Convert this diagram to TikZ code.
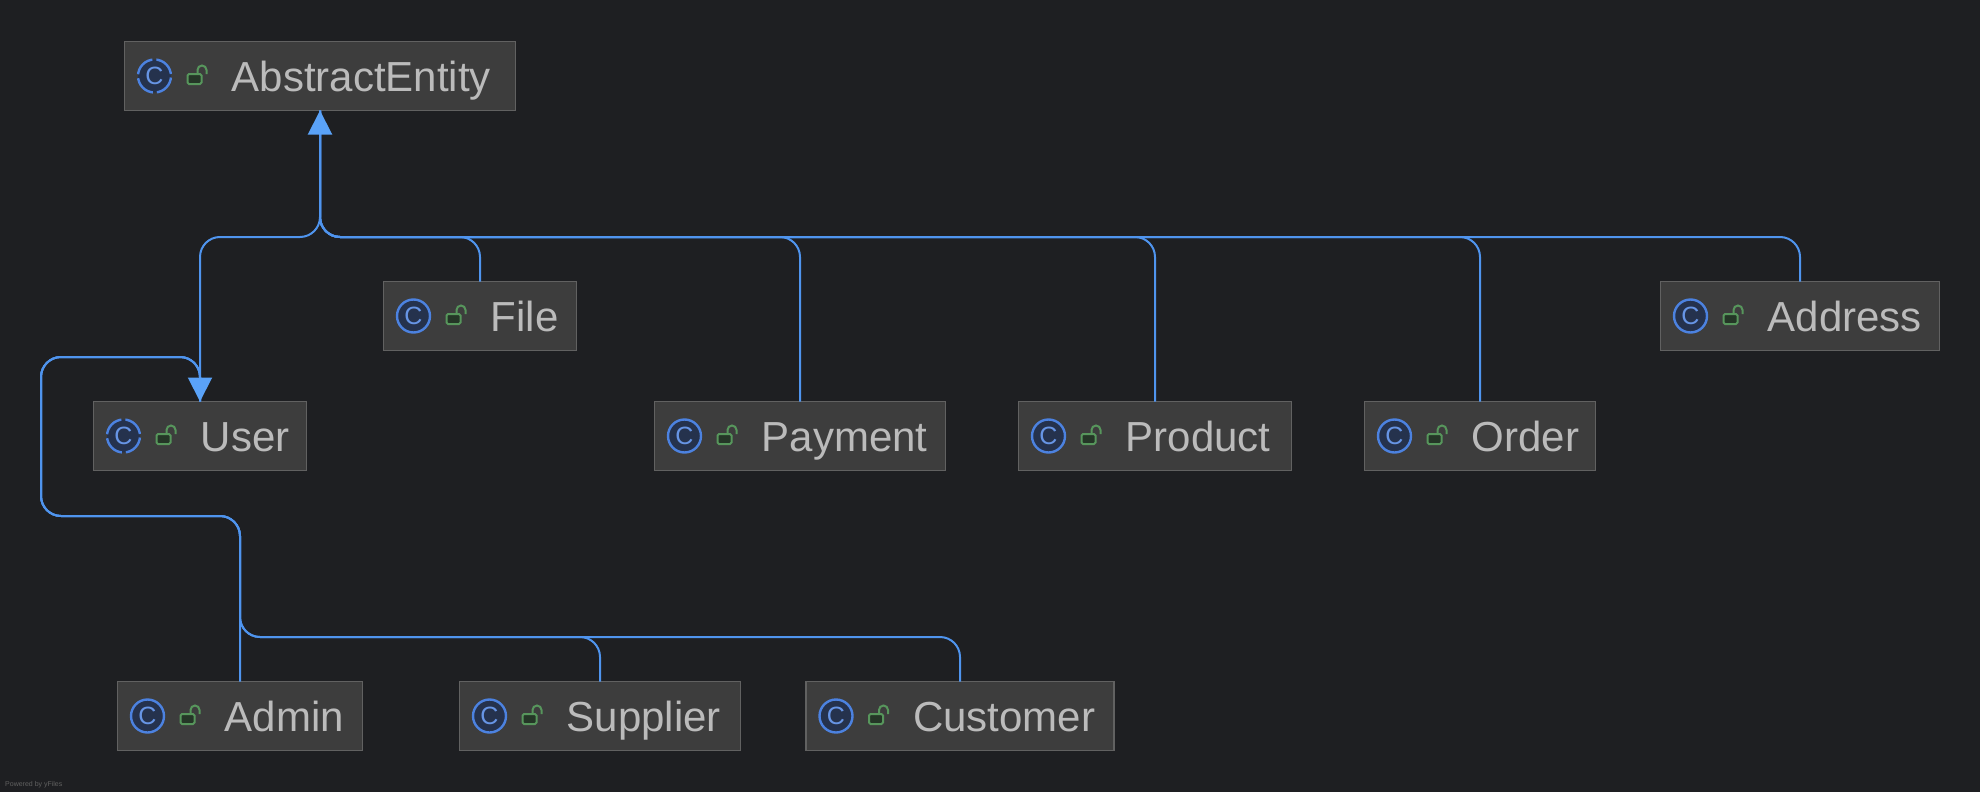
\documentclass[tikz,border=0pt]{standalone}
\usepackage{fontspec}
\setmainfont{Liberation Sans}
\usetikzlibrary{arrows.meta}
\definecolor{canvasbg}{HTML}{1E1F22}
\definecolor{boxfill}{HTML}{3D3D3D}
\definecolor{boxedge}{HTML}{616161}
\definecolor{labeltext}{HTML}{BBBBBB}
\definecolor{iconblue}{HTML}{4C82E0}
\definecolor{iconfill}{HTML}{25324D}
\definecolor{lockgreen}{HTML}{57965C}
\definecolor{lockfill}{HTML}{253627}
\definecolor{inherit}{HTML}{4F94EE}
\definecolor{inherithead}{HTML}{5AA2F8}
\tikzset{
  classbox/.style     = {shape=rectangle, draw=boxedge, fill=boxfill, line width=1.5pt,
                         anchor=north west, minimum height=69pt, outer sep=0pt, inner sep=0pt},
  classlabel/.style   = {text=labeltext, font=\fontsize{42}{48}\selectfont,
                         anchor=base west, inner sep=0pt},
  concreteicon/.style = {shape=circle, draw=iconblue, fill=iconfill, line width=2.4pt,
                         minimum size=33pt, inner sep=0pt, text=iconblue!85!white,
                         font=\fontsize{25}{25}\selectfont},
  abstracticon/.style = {concreteicon, dash pattern=on 22pt off 4pt, dash phase=24pt},
  lockbody/.style     = {shape=rectangle, rounded corners=1.5pt, draw=lockgreen, fill=lockfill,
                         line width=2pt, minimum width=14pt, minimum height=10pt, inner sep=0pt},
  lockshackle/.style  = {draw=lockgreen, line width=2pt},
  inheritline/.style  = {draw=inherit, line width=2pt, rounded corners=20pt},
  inherittip/.style   = {inheritline, -{Triangle[length=24pt,width=24pt,color=inherithead]}}
}
% name, left, top, width, text, icon style
\newcommand{\classnode}[6]{
  \node[classbox, minimum width=#4pt] (#1) at (#2,#3) {};
  \node[#6] (#1-icon) at ([xshift=30pt]#1.west) {C};
  \node[lockbody] (#1-lock) at ([xshift=70pt,yshift=-3pt]#1.west) {};
  \draw[lockshackle] ([xshift=3pt]#1-lock.north) -- ++(0pt,3pt)
    arc[start angle=180, end angle=0, radius=4.5pt] -- ++(0pt,-4pt);
  \node[classlabel] (#1-label) at ([xshift=107pt,yshift=-49.5pt]#1.north west) {#5};
}
\begin{document}
\begin{tikzpicture}[x=1pt,y=-1pt]
  \path[fill=canvasbg, use as bounding box] (0,0) rectangle (1980,792);

  \classnode{entity}{124.5}{41.5}{391}{AbstractEntity}{abstracticon}
  \classnode{file}{383.5}{281.5}{193}{File}{concreteicon}
  \classnode{address}{1660.5}{281.5}{279}{Address}{concreteicon}
  \classnode{user}{93.5}{401.5}{213}{User}{abstracticon}
  \classnode{payment}{654.5}{401.5}{291}{Payment}{concreteicon}
  \classnode{product}{1018.5}{401.5}{273}{Product}{concreteicon}
  \classnode{order}{1364.5}{401.5}{231}{Order}{concreteicon}
  \classnode{admin}{117.5}{681.5}{245}{Admin}{concreteicon}
  \classnode{supplier}{459.5}{681.5}{281}{Supplier}{concreteicon}
  \classnode{customer}{806}{681.5}{308}{Customer}{concreteicon}

  \coordinate (busjoin) at (320,237);
  \coordinate (looptop) at (41,357);
  \coordinate (loopbottom) at (41,516);
  \coordinate (subjoin) at (240,637);

  % upper hierarchy
  \draw[inheritline] (address.north) |- (busjoin) -- (entity.south);
  \draw[inheritline] (order.north) |- (busjoin) -- (entity.south);
  \draw[inheritline] (product.north) |- (busjoin) -- (entity.south);
  \draw[inheritline] (payment.north) |- (busjoin) -- (entity.south);
  \draw[inheritline] (file.north) |- (busjoin) -- (entity.south);
  \draw[inherittip] (user.north) |- (busjoin) -- (entity.south);

  % lower hierarchy
  \draw[inheritline] (customer.north) |- (subjoin) -- (admin.north |- loopbottom)
    -- (loopbottom) -- (looptop) -- (user.north |- looptop) -- (user.north);
  \draw[inheritline] (supplier.north) |- (subjoin) -- (admin.north |- loopbottom)
    -- (loopbottom) -- (looptop) -- (user.north |- looptop) -- (user.north);
  \draw[inherittip] (admin.north) -- (admin.north |- loopbottom)
    -- (loopbottom) -- (looptop) -- (user.north |- looptop) -- (user.north);

  \node[anchor=base west, inner sep=0pt, text=boxedge, font=\fontsize{7}{8}\selectfont]
    (credit) at (5,786) {Powered by yFiles};
\end{tikzpicture}
\end{document}
